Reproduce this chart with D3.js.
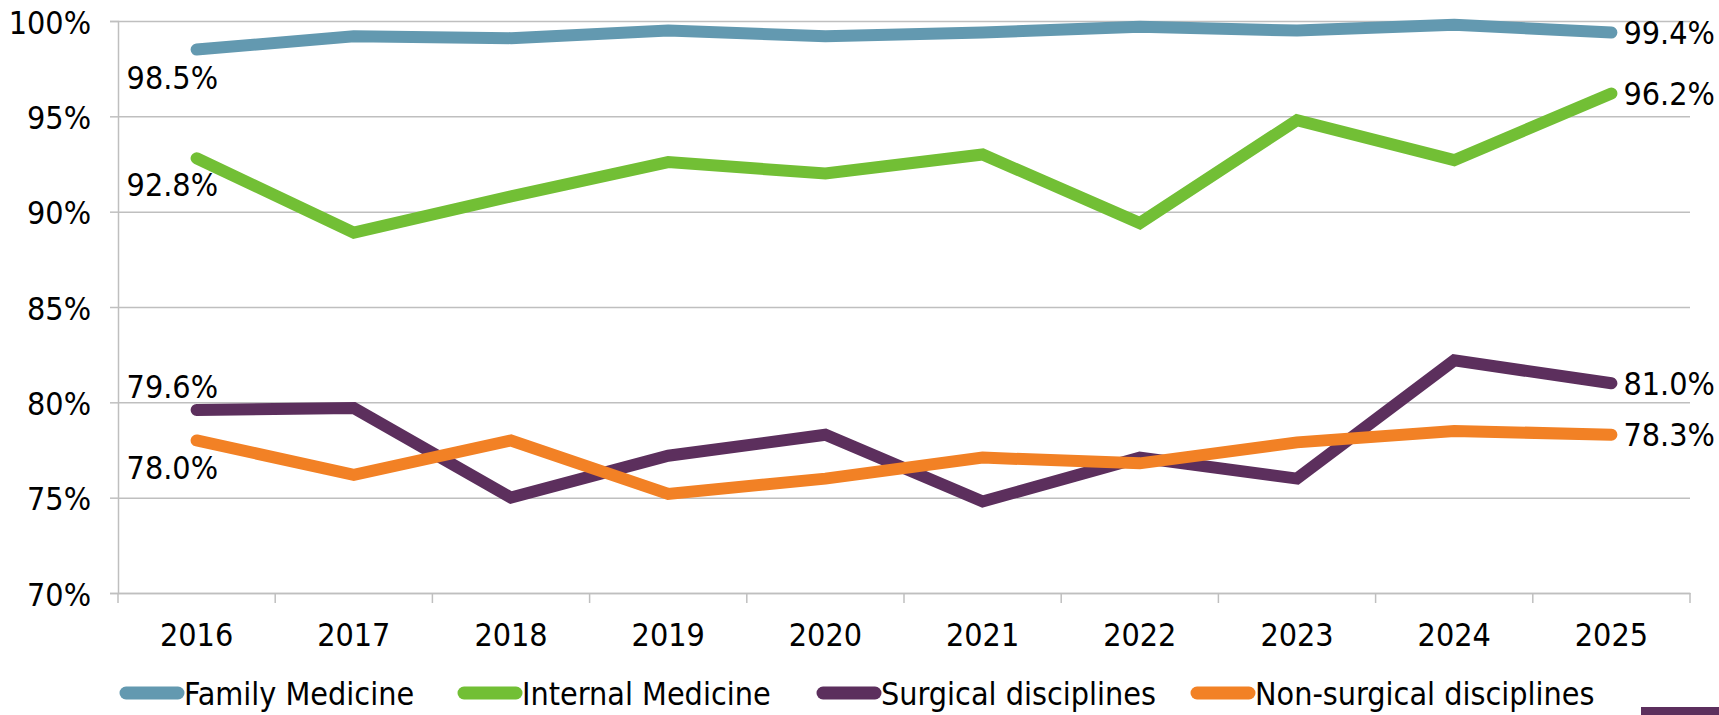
<!DOCTYPE html>
<html>
<head>
<meta charset="utf-8">
<script src="https://cdn.jsdelivr.net/npm/d3@7"></script>
<style>
  body { margin: 0; background: #fff; }
  svg { display: block; }
  text { font-family: "DejaVu Sans Condensed", "Liberation Sans Narrow", sans-serif; fill: #000; }
</style>
</head>
<body>
<svg width="1719" height="715"></svg>
<script>
var years = ["2016", "2017", "2018", "2019", "2020", "2021", "2022", "2023", "2024", "2025"];
var yTicks = [70, 75, 80, 85, 90, 95, 100];

var familyMedicine = [98.5, 99.2, 99.1, 99.5, 99.2, 99.4, 99.7, 99.5, 99.8, 99.4];
var internalMedicine = [92.8, 88.9, 90.8, 92.6, 92.0, 93.0, 89.4, 94.8, 92.7, 96.2];
var surgical = [79.6, 79.7, 75.0, 77.2, 78.3, 74.8, 77.1, 76.0, 82.2, 81.0];
var nonSurgical = [78.0, 76.2, 78.0, 75.2, 76.0, 77.1, 76.8, 77.9, 78.5, 78.3];

var seriesNames = ["Family Medicine", "Internal Medicine", "Surgical disciplines", "Non-surgical disciplines"];
var colors = ["#6399b0", "#72bf35", "#5c2f5d", "#f28125"];
// vertical offset of the first-point label (end labels sit centred to the right)
var startLabelDy = [28, 26, -23, 27];

var series = [familyMedicine, internalMedicine, surgical, nonSurgical].map(function(vals, i) {
    return {name: seriesNames[i], color: colors[i], values: vals, dy: startLabelDy[i]};
});

var svg = d3.select("svg"),
    mLeft = 118, mRight = 1690, mTop = 21, mBottom = 593,
    fontSize = 32;

var x = d3.scaleBand().domain(years).range([mLeft, mRight]);
var cx = function(d) { return x(d) + x.bandwidth() / 2; };
var y = d3.scaleLinear().domain([70, 100]).range([mBottom, mTop]);

// gridlines
svg.append("g")
    .attr("transform", "translate(" + mLeft + ",0)")
    .call(d3.axisLeft(y).tickValues(yTicks).tickSize(-(mRight - mLeft)).tickFormat(""))
    .call(function(g) {
        g.select(".domain").remove();
        g.selectAll("line").attr("stroke", "#bfbfbf").attr("stroke-width", 1.5);
    });

// y axis
svg.append("g")
    .attr("transform", "translate(" + mLeft + ",0)")
    .call(d3.axisLeft(y).tickValues(yTicks).tickSize(8).tickPadding(19)
        .tickFormat(function(d) { return d + "%"; }))
    .call(function(g) {
        g.select(".domain").attr("stroke", "#bfbfbf").attr("stroke-width", 1.5);
        g.selectAll("line").attr("stroke", "#bfbfbf").attr("stroke-width", 1.5);
        g.selectAll("text").attr("font-size", fontSize).attr("dy", "0.38em")
            .attr("font-family", null).attr("fill", "#000");
    });

// x axis
var xg = svg.append("g").attr("transform", "translate(0," + mBottom + ")");
xg.call(d3.axisBottom(x).tickSize(0).tickPadding(30))
    .call(function(g) {
        g.select(".domain").attr("stroke", "#bfbfbf").attr("stroke-width", 1.5);
        g.selectAll("text").attr("font-size", fontSize).attr("dy", "0.71em")
            .attr("font-family", null).attr("fill", "#000");
    });
xg.selectAll(".edge")
    .data(years.map(function(d) { return x(d); }).concat([mRight]))
    .enter().append("line")
    .attr("class", "edge")
    .attr("x1", function(d) { return d; }).attr("x2", function(d) { return d; })
    .attr("y1", 0).attr("y2", 10)
    .attr("stroke", "#bfbfbf").attr("stroke-width", 1.5);

// lines
var line = d3.line()
    .x(function(d, i) { return cx(years[i]); })
    .y(function(d) { return y(d); });

svg.append("g").selectAll("path")
    .data(series)
    .enter().append("path")
    .attr("d", function(d) { return line(d.values); })
    .attr("fill", "none")
    .attr("stroke", function(d) { return d.color; })
    .attr("stroke-width", 12)
    .attr("stroke-linecap", "round")
    .attr("stroke-linejoin", "miter");

// data labels at first and last points
var labels = svg.append("g").attr("font-size", fontSize);
labels.selectAll(".first")
    .data(series)
    .enter().append("text")
    .attr("x", function(d) { return cx(years[0]) - 70; })
    .attr("y", function(d) { return y(d.values[0]) + d.dy; })
    .attr("dy", "0.36em")
    .text(function(d) { return d.values[0].toFixed(1) + "%"; });
labels.selectAll(".last")
    .data(series)
    .enter().append("text")
    .attr("x", function(d) { return cx(years[years.length - 1]) + 12; })
    .attr("y", function(d) { return y(d.values[d.values.length - 1]); })
    .attr("dy", "0.36em")
    .text(function(d) { return d.values[d.values.length - 1].toFixed(1) + "%"; });

// legend
var legendX = [120, 458, 817, 1191];
var legend = svg.append("g").attr("transform", "translate(0,693)");
var item = legend.selectAll("g")
    .data(series)
    .enter().append("g")
    .attr("transform", function(d, i) { return "translate(" + legendX[i] + ",0)"; });
item.append("line")
    .attr("x1", 6).attr("x2", 58)
    .attr("stroke", function(d) { return d.color; })
    .attr("stroke-width", 13)
    .attr("stroke-linecap", "round");
item.append("text")
    .attr("x", 64)
    .attr("dy", "0.36em")
    .attr("font-size", fontSize)
    .text(function(d) { return d.name; });

// decorative bar bottom right
svg.append("rect")
    .attr("x", 1641).attr("y", 707).attr("width", 78).attr("height", 8)
    .attr("fill", "#5c2f5d");
</script>
</body>
</html>
